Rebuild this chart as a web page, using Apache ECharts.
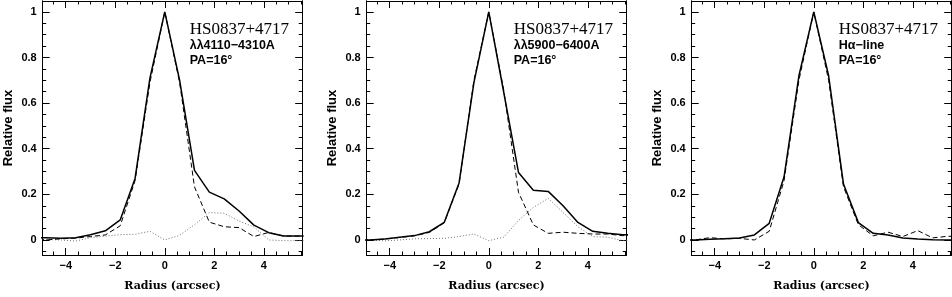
<!DOCTYPE html>
<html>
<head>
<meta charset="utf-8">
<script src="https://cdn.jsdelivr.net/npm/echarts@6/dist/echarts.min.js"></script>
<style>html,body{margin:0;padding:0;background:#fff}#c{width:952px;height:297px}</style>
</head>
<body>
<div id="c"></div>
<script>
// Radius sample points (arcsec)
var radius = [-5.4, -4.8, -4.2, -3.6, -3.0, -2.4, -1.8, -1.2, -0.6, 0, 0.6, 1.2, 1.8, 2.4, 3.0, 3.6, 4.2, 4.8, 5.4, 6.0];

// Panel 1: λλ4110-4310A
var p1Solid  = [0.010, 0.010, 0.007, 0.010, 0.023, 0.040, 0.088, 0.270, 0.710, 1.0, 0.700, 0.305, 0.210, 0.180, 0.127, 0.065, 0.032, 0.017, 0.017, 0.017];
var p1Dashed = [0.000, 0.000, 0.005, 0.008, 0.015, 0.022, 0.062, 0.260, 0.690, 1.0, 0.690, 0.233, 0.078, 0.058, 0.054, 0.015, 0.033, 0.017, 0.017, 0.017];
var p1Dotted = [0.002, 0.002, 0.000, -0.005, 0.010, 0.017, 0.023, 0.025, 0.038, 0.0, 0.020, 0.067, 0.120, 0.117, 0.083, 0.057, 0.000, -0.003, -0.003, -0.003];

// Panel 2: λλ5900-6400A
var p2Solid  = [0.000, 0.000, 0.004, 0.012, 0.019, 0.036, 0.077, 0.250, 0.690, 1.0, 0.650, 0.296, 0.218, 0.213, 0.150, 0.077, 0.038, 0.029, 0.023, 0.023];
var p2Dashed = [0.000, 0.000, 0.004, 0.011, 0.018, 0.033, 0.075, 0.245, 0.700, 1.0, 0.660, 0.209, 0.066, 0.029, 0.034, 0.029, 0.026, 0.026, 0.019, 0.019];
var p2Dotted = [0.000, 0.000, -0.004, 0.000, 0.005, 0.006, 0.007, 0.015, 0.026, -0.003, 0.012, 0.085, 0.143, 0.182, 0.121, 0.058, 0.015, 0.012, -0.003, -0.003];

// Panel 3: Hα-line
var p3Solid  = [0.000, 0.000, 0.003, 0.005, 0.009, 0.022, 0.073, 0.277, 0.720, 1.0, 0.720, 0.245, 0.076, 0.029, 0.022, 0.009, 0.004, 0.001, 0.000, 0.000];
var p3Dashed = [0.000, 0.000, 0.010, 0.005, 0.007, 0.000, 0.038, 0.260, 0.700, 1.0, 0.700, 0.233, 0.067, 0.018, 0.034, 0.015, 0.041, 0.009, 0.016, 0.016];

// Tick labels
var xMajorTicks = [-4, -2, 0, 2, 4];
var xMinorTicks = [-4.5, -4, -3.5, -3, -2.5, -2, -1.5, -1, -0.5, 0, 0.5, 1, 1.5, 2, 2.5, 3, 3.5, 4, 4.5, 5, 5.5];
var yMajorTicks = [0, 0.2, 0.4, 0.6, 0.8, 1];
var yMinorTicks = [-0.05, 0, 0.05, 0.1, 0.15, 0.2, 0.25, 0.3, 0.35, 0.4, 0.45, 0.5, 0.55, 0.6, 0.65, 0.7, 0.75, 0.8, 0.85, 0.9, 0.95, 1, 1.05];

var objectName = 'HS0837+4717';
var panelLabels = ['λλ4110−4310A', 'λλ5900−6400A', 'Hα−line'];
var paLabel = 'PA=16°';
var xName = 'Radius (arcsec)';
var yName = 'Relative flux';

var panels = [
  {solid: p1Solid, dashed: p1Dashed, dotted: p1Dotted},
  {solid: p2Solid, dashed: p2Dashed, dotted: p2Dotted},
  {solid: p3Solid, dashed: p3Dashed, dotted: null}
];

var gridLefts = [42.7, 366.7, 691.7];
var gridWidth = 259.5;
var XMIN = -4.93, XMAX = 5.55, YMIN = -0.066, YMAX = 1.048;
var lblFont = {fontFamily: 'Liberation Sans', fontWeight: 'bold', fontSize: 11, color: '#000'};

function pair(arr) { return radius.map(function (r, i) { return [r, arr[i]]; }); }
function fmtMinus(v) { return String(v).replace('-', '\u2212'); }

var grids = [], xAxes = [], yAxes = [], series = [], titles = [];
panels.forEach(function (p, g) {
  grids.push({left: gridLefts[g], top: 1, width: gridWidth, height: 257, containLabel: false});
  var base = {gridIndex: g, type: 'value', min: XMIN, max: XMAX, splitLine: {show: false},
    axisLine: {show: true, onZero: false, lineStyle: {color: '#000', width: 1}}};
  // bottom major (main)
  xAxes.push(Object.assign({}, base, {position: 'bottom',
    name: xName, nameLocation: 'middle', nameGap: 26,
    nameTextStyle: {fontFamily: 'DejaVu Serif', fontWeight: 'bold', fontSize: 11, color: '#000'},
    axisTick: {show: true, inside: true, length: 7, customValues: xMajorTicks, lineStyle: {color: '#000'}},
    axisLabel: Object.assign({show: true, margin: 5, customValues: xMajorTicks, formatter: fmtMinus}, lblFont)}));
  var mainX = xAxes.length - 1;
  xAxes.push(Object.assign({}, base, {position: 'bottom',
    axisTick: {show: true, inside: true, length: 3.5, customValues: xMinorTicks, lineStyle: {color: '#000'}},
    axisLabel: {show: false}}));
  xAxes.push(Object.assign({}, base, {position: 'top',
    axisTick: {show: true, inside: true, length: 7, customValues: xMajorTicks, lineStyle: {color: '#000'}},
    axisLabel: {show: false}}));
  xAxes.push(Object.assign({}, base, {position: 'top',
    axisTick: {show: true, inside: true, length: 3.5, customValues: xMinorTicks, lineStyle: {color: '#000'}},
    axisLabel: {show: false}}));

  var ybase = {gridIndex: g, type: 'value', min: YMIN, max: YMAX, splitLine: {show: false},
    axisLine: {show: true, onZero: false, lineStyle: {color: '#000', width: 1}}};
  yAxes.push(Object.assign({}, ybase, {position: 'left',
    name: yName, nameLocation: 'middle', nameGap: 28, nameRotate: 90,
    nameTextStyle: {fontFamily: 'Liberation Sans', fontWeight: 'bold', fontSize: 13, color: '#000'},
    axisTick: {show: true, inside: true, length: 7, customValues: yMajorTicks, lineStyle: {color: '#000'}},
    axisLabel: Object.assign({show: true, margin: 6, customValues: yMajorTicks}, lblFont)}));
  var mainY = yAxes.length - 1;
  yAxes.push(Object.assign({}, ybase, {position: 'left',
    axisTick: {show: true, inside: true, length: 3.5, customValues: yMinorTicks, lineStyle: {color: '#000'}},
    axisLabel: {show: false}}));
  yAxes.push(Object.assign({}, ybase, {position: 'right',
    axisTick: {show: true, inside: true, length: 7, customValues: yMajorTicks, lineStyle: {color: '#000'}},
    axisLabel: {show: false}}));
  yAxes.push(Object.assign({}, ybase, {position: 'right',
    axisTick: {show: true, inside: true, length: 3.5, customValues: yMinorTicks, lineStyle: {color: '#000'}},
    axisLabel: {show: false}}));

  var common = {type: 'line', xAxisIndex: mainX, yAxisIndex: mainY, symbol: 'none', silent: true,
    animation: false, clip: true};
  if (p.dotted) series.push(Object.assign({}, common, {data: pair(p.dotted),
    lineStyle: {color: '#707070', width: 1, type: [1, 2]}}));
  series.push(Object.assign({}, common, {data: pair(p.dashed),
    lineStyle: {color: '#000', width: 1, type: [5, 3]}}));
  series.push(Object.assign({}, common, {data: pair(p.solid),
    lineStyle: {color: '#000', width: 1.5}}));

  var tx = gridLefts[g] + 147;
  titles.push({text: objectName, left: tx, top: 21,
    textStyle: {fontFamily: 'Liberation Serif', fontWeight: 'normal', fontSize: 17, color: '#000'}});
  titles.push({text: panelLabels[g], left: tx, top: 39,
    textStyle: {fontFamily: 'Liberation Sans', fontWeight: 'bold', fontSize: 12.5, color: '#000'}});
  titles.push({text: paLabel, left: tx, top: 54,
    textStyle: {fontFamily: 'Liberation Sans', fontWeight: 'bold', fontSize: 12.5, color: '#000'}});
});

var chart = echarts.init(document.getElementById('c'), null, {renderer: 'canvas'});
chart.setOption({
  animation: false,
  backgroundColor: '#fff',
  title: titles.map(function (t) { return Object.assign({padding: 0}, t); }),
  grid: grids,
  xAxis: xAxes,
  yAxis: yAxes,
  series: series
});
</script>
</body>
</html>
